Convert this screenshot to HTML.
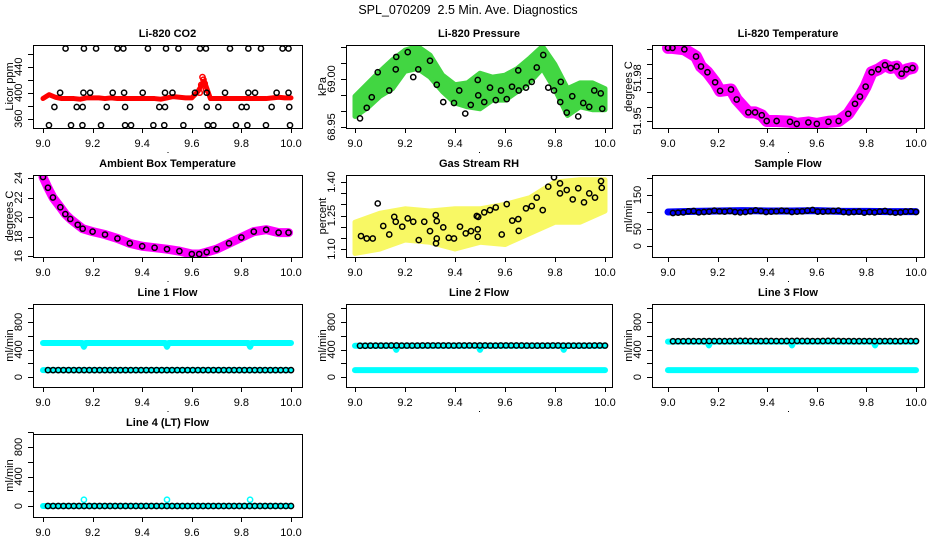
<!DOCTYPE html>
<html><head><meta charset="utf-8"><style>
html,body{margin:0;padding:0;background:#fff}
svg{display:block;font-family:"Liberation Sans",Arial,sans-serif}
</style></head><body>
<svg id="chart" width="936" height="540" viewBox="0 0 936 540" xmlns="http://www.w3.org/2000/svg">
<rect width="936" height="540" fill="#fff"/>
<text x="468" y="14" text-anchor="middle" font-size="12.5">SPL_070209&#160; 2.5 Min. Ave. Diagnostics</text>
</svg>
<script>
// ---------- data ----------
const gridT = [9.0,9.025,9.05,9.075,9.1,9.125,9.15,9.175,9.2,9.225,9.25,9.275,9.3,9.325,9.35,9.375,9.4,9.425,9.45,9.475,9.5,9.525,9.55,9.575,9.6,9.625,9.65,9.675,9.7,9.725,9.75,9.775,9.8,9.825,9.85,9.875,9.9,9.925,9.95,9.975,10.0];
const co2Red = [391,397,393,391,391,391,390,392,392,392,391,392,391,391,391,391,391,391,391,390,392,394,393,392,392,402,418,391,391,391,391,391,391,391,391,391,391,392,393,392,392];
const co2SpikeT = [9.632,9.638,9.643,9.647,9.652,9.657];
const co2SpikeV = [400,412,424,420,414,405];
const co2BlackT = [9.091,9.165,9.214,9.3,9.324,9.423,9.496,9.546,9.633,9.657,9.754,9.828,9.879,9.966,9.99,
 9.069,9.163,9.19,9.281,9.327,9.402,9.492,9.522,9.613,9.66,9.734,9.828,9.855,9.942,9.99,
 9.046,9.136,9.16,9.257,9.331,9.469,9.492,9.593,9.66,9.707,9.801,9.821,9.922,9.993,
 9.024,9.113,9.159,9.234,9.331,9.355,9.445,9.489,9.566,9.664,9.687,9.778,9.824,9.899,9.996];
const co2BlackV = [468,468,468,468,468,468,468,468,468,468,468,468,468,468,468,
 400,400,400,400,400,400,400,400,400,400,400,400,400,400,400,
 378,378,378,378,378,378,378,378,378,378,378,378,378,378,
 350,350,350,350,350,350,350,350,350,350,350,350,350,350,350];

const presT = [9.0,9.05,9.1,9.15,9.2,9.25,9.3,9.35,9.4,9.45,9.5,9.55,9.6,9.65,9.7,9.75,9.8,9.85,9.9,9.95,10.0];
const presLo = [68.961,68.970,68.982,68.990,69.008,69.011,69.002,68.987,68.975,68.971,68.969,68.978,68.978,68.987,68.997,69.011,68.989,68.962,68.971,68.968,68.968];
const presHi = [68.982,68.995,69.008,69.020,69.030,69.034,69.025,69.004,68.994,68.996,69.006,69.002,69.004,69.011,69.022,69.034,69.015,68.990,68.996,68.996,68.990];
const presBlackT = [9.02,9.047,9.067,9.091,9.137,9.165,9.163,9.211,9.253,9.233,9.3,9.327,9.353,9.396,9.417,9.441,9.463,9.491,9.493,9.517,9.54,9.563,9.584,9.607,9.628,9.653,9.655,9.684,9.707,9.727,9.753,9.773,9.796,9.821,9.823,9.847,9.869,9.893,9.913,9.937,9.957,9.983,9.989];
const presBlackV = [68.959,68.970,68.981,69.007,68.988,69.023,69.010,69.028,69.010,69.002,69.019,68.994,68.976,68.975,68.988,68.964,68.973,68.999,68.983,68.976,68.991,68.978,68.988,68.979,68.992,69.009,68.988,68.991,68.997,69.012,69.025,68.991,68.988,68.976,68.997,68.965,68.982,68.961,68.975,68.971,68.988,68.985,68.969];

const tempT = [9.0,9.018,9.066,9.113,9.133,9.159,9.19,9.21,9.254,9.277,9.324,9.351,9.378,9.398,9.438,9.492,9.519,9.566,9.6,9.647,9.688,9.727,9.754,9.774,9.797,9.821,9.848,9.875,9.898,9.922,9.942,9.962,9.986];
const tempV = [52.001,52.001,52.000,51.995,51.988,51.984,51.977,51.971,51.972,51.965,51.956,51.956,51.954,51.950,51.950,51.9495,51.948,51.949,51.948,51.9495,51.950,51.955,51.962,51.967,51.974,51.984,51.986,51.989,51.987,51.988,51.983,51.986,51.987];

const ambT = [9.0,9.02,9.04,9.07,9.09,9.11,9.14,9.16,9.2,9.25,9.3,9.35,9.4,9.45,9.5,9.55,9.6,9.63,9.66,9.7,9.75,9.8,9.85,9.9,9.95,9.99];
const ambV = [24.1,23.0,22.0,21.0,20.3,19.8,19.2,18.8,18.5,18.2,17.8,17.3,17.0,16.85,16.7,16.5,16.2,16.2,16.4,16.7,17.3,17.9,18.5,18.7,18.4,18.4];

const rhT = [9.0,9.1,9.2,9.3,9.4,9.5,9.6,9.7,9.8,9.9,10.0];
const rhLo = [1.08,1.10,1.14,1.13,1.10,1.13,1.12,1.17,1.22,1.22,1.27];
const rhHi = [1.22,1.26,1.28,1.27,1.28,1.28,1.30,1.33,1.40,1.41,1.41];
const rhBlackT = [9.024,9.047,9.071,9.091,9.113,9.137,9.157,9.163,9.189,9.211,9.233,9.255,9.277,9.3,9.323,9.327,9.327,9.324,9.353,9.375,9.396,9.42,9.443,9.464,9.487,9.493,9.491,9.491,9.517,9.54,9.563,9.587,9.607,9.629,9.653,9.655,9.684,9.707,9.727,9.751,9.773,9.796,9.82,9.82,9.847,9.871,9.893,9.916,9.937,9.96,9.984,9.987];
const rhBlackV = [1.158,1.147,1.147,1.304,1.203,1.165,1.244,1.222,1.200,1.237,1.222,1.140,1.222,1.180,1.252,1.147,1.225,1.125,1.197,1.150,1.147,1.200,1.170,1.180,1.248,1.244,1.188,1.155,1.264,1.274,1.286,1.165,1.301,1.227,1.234,1.181,1.282,1.292,1.330,1.274,1.379,1.421,1.394,1.349,1.364,1.322,1.372,1.309,1.349,1.330,1.404,1.374];

const blackT = Array.from({length:48},(_, i)=>9.02+i*0.98/47);
const sampBandT = [9.0,9.1,9.2,9.3,9.4,9.5,9.6,9.7,9.8,9.9,10.0];
const sampBandV = [100,102,103,104,103,103,104,102,102,101,101];
const sampBlack = [97,98,99,102,103,99,100,101,104,102,101,103,100,99,100,102,105,103,100,101,102,104,103,100,101,102,104,106,101,101,102,103,104,100,99,100,101,98,100,99,101,103,100,98,99,101,102,100];
const line1Black = [100,100,100,100,100,100,100,100,100,100,100,100,100,100,100,100,100,100,100,100,100,100,100,100,100,100,100,100,100,100,100,100,100,100,100,100,100,100,100,100,100,100,100,100,100,100,100,100];
const line2Black = [455,455,456,456,457,457,458,458,457,457,456,457,458,458,459,459,458,458,457,458,458,459,459,458,458,457,457,458,459,459,458,458,457,456,456,457,457,458,458,457,457,456,456,457,457,458,458,457];
const line3Black = [520,521,521,522,522,521,522,523,523,522,522,523,524,525,525,524,523,523,524,524,523,523,524,524,525,524,524,523,523,524,525,525,524,523,523,522,522,523,523,522,522,523,523,522,522,523,523,522];
const line4Black = [0,0,0,0,0,0,0,0,0,0,0,0,0,0,0,0,0,0,0,0,0,0,0,0,0,0,0,0,0,0,0,0,0,0,0,0,0,0,0,0,0,0,0,0,0,0,0,0];
const cyanT = [9.0,9.158,9.165,9.172,9.493,9.5,9.507,9.828,9.835,9.842,10.0];
const line1CyanHi = [495,495,440,495,495,440,495,495,440,495,495];
const line2CyanHi = [455,455,395,455,455,395,455,455,395,455,455];
const line3CyanHi = [515,515,460,515,515,460,515,515,460,515,515];
const cyanLowT = [9.0,10.0];
const cyanLow100 = [100,100];
const spikeT = [9.165,9.5,9.835];
const line4Spikes = [85,85,85];

// ---------- layout helpers ----------
const NS = 'http://www.w3.org/2000/svg';
const svg = document.getElementById('chart');
const COLS = [{bx0:33,bx1:302,xa:43,xb:291},{bx0:346,bx1:612,xa:355,xb:605},{bx0:652,bx1:924,xa:668,xb:916}];
const ROWS = [{by0:45,by1:128},{by0:175,by1:257},{by0:304,by1:387},{by0:434,by1:517}];
const xTicks = [9.0,9.2,9.4,9.6,9.8,10.0];
const xTickLabels = ['9.0','9.2','9.4','9.6','9.8','10.0'];

function mk(tag, attrs, parent){
  const e = document.createElementNS(NS, tag);
  for (const k in attrs) e.setAttribute(k, attrs[k]);
  (parent||svg).appendChild(e);
  return e;
}

function panel(name, col, row, v1, p1, v2, p2, yTicks, yLabels, title, ylab){
  const C = COLS[col], R = ROWS[row];
  const g = mk('g', {});
  
  
  const sx = t => C.xa + (t-9)*(C.xb-C.xa);
  const sy = v => p1 + (v-v1)*(p2-p1)/(v2-v1);
  const plot = mk('g', {}, g);
  
  
  const box = mk('rect', {x:C.bx0+.5, y:R.by0+.5, width:C.bx1-C.bx0, height:R.by1-R.by0, fill:'none', stroke:'#000', 'stroke-width':1}, g);
  
  
  const xa = mk('g', {}, g);
  
  
  mk('line', {x1:sx(9), x2:sx(10), y1:R.by1+.5, y2:R.by1+.5, stroke:'#000'}, xa);
  xTicks.forEach((t,i)=>{
    mk('line', {x1:Math.round(sx(t))+.5, x2:Math.round(sx(t))+.5, y1:R.by1, y2:R.by1+5, stroke:'#000'}, xa);
    const tx = mk('text', {x:sx(t), y:R.by1+19, 'text-anchor':'middle', 'font-size':11}, xa);
    tx.textContent = xTickLabels[i];
    
    
  });
  mk('rect', {x:(C.bx0+C.bx1)/2, y:R.by1+24, width:1, height:1, fill:'#000'}, xa);
  const ya = mk('g', {}, g);
  
  
  mk('line', {x1:C.bx0+.5, x2:C.bx0+.5, y1:sy(yTicks[0]), y2:sy(yTicks[yTicks.length-1]), stroke:'#000'}, ya);
  yTicks.forEach(v=>{
    const y = Math.round(sy(v))+.5;
    mk('line', {x1:C.bx0-5, x2:C.bx0, y1:y, y2:y, stroke:'#000'}, ya);
  });
  yLabels.forEach(l=>{
    const y = sy(l[0]);
    const tx = mk('text', {transform:`translate(${C.bx0-11},${y}) rotate(-90)`, 'text-anchor':'middle', 'font-size':11}, ya);
    tx.textContent = l[1];
    
    
  });
  const yt = mk('text', {transform:`translate(${C.bx0-20},${(R.by0+R.by1)/2}) rotate(-90)`, 'text-anchor':'middle', 'font-size':11}, g);
  yt.textContent = ylab;
  
  
  const tt = mk('text', {x:(C.bx0+C.bx1)/2, y:R.by0-8, 'text-anchor':'middle', 'font-size':11, 'font-weight':'bold'}, g);
  tt.textContent = title;
  
  
  const clip = 'clip-' + name;
  const cp = mk('clipPath', {id:clip}, g);
  mk('rect', {x:C.bx0+1, y:R.by0+1, width:C.bx1-C.bx0-1, height:R.by1-R.by0-1}, cp);
  plot.setAttribute('clip-path', `url(#${clip})`);
  g.appendChild(plot);
  return {sx, sy, plot};
}

function pts(P, ts, vs, color, name, r, sw){
  const g = mk('g', {}, P.plot);
  
  
  ts.forEach((t,i)=>{
    const c = mk('circle', {cx:P.sx(t), cy:P.sy(vs[i]), r:r||2.6, fill:'none', stroke:color, 'stroke-width':sw||1.5}, g);
    
    
  });
}
function band(P, ts, vs, color, w, name){
  const p = mk('polyline', {points: ts.map((t,i)=>P.sx(t)+','+P.sy(vs[i])).join(' '), fill:'none', stroke:color, 'stroke-width':w, 'stroke-linejoin':'round', 'stroke-linecap':'round'}, P.plot);
  
  
}
function area(P, ts, lo, hi, color, name, op){
  const up = ts.map((t,i)=>P.sx(t)+','+P.sy(hi[i]));
  const dn = ts.map((t,i)=>P.sx(t)+','+P.sy(lo[i])).reverse();
  const p = mk('polygon', {points: up.concat(dn).join(' '), fill:color, stroke:color, 'stroke-width':5, 'stroke-linejoin':'round', opacity:op||1}, P.plot);
  
  
}

// ---------- panels ----------
let P;
P = panel('co2', 0, 0, 400, 92.7, 440, 66.7, [360,380,400,420,440,460], [[360,'360'],[400,'400'],[440,'440']], 'Li-820 CO2', 'Licor ppm');
band(P, gridT, co2Red, '#ff0000', 5, 'co2-red-series');
pts(P, co2SpikeT, co2SpikeV, '#ff0000', 'co2-spike');
pts(P, co2BlackT, co2BlackV, '#000', 'co2-black-series');

P = panel('pressure', 1, 0, 69.00, 79, 68.95, 127, [68.95,68.9667,68.9833,69.00,69.0167,69.0333], [[68.95,'68.95'],[69.00,'69.00']], 'Li-820 Pressure', 'kPa');
area(P, presT, presLo, presHi, '#2ed22e', 'pressure-green-cloud', 0.9);
pts(P, presBlackT, presBlackV, '#000', 'pressure-black-series');

P = panel('li820-temp', 2, 0, 51.98, 78, 51.95, 121, [51.95,51.96,51.97,51.98,51.99,52.00], [[51.95,'51.95'],[51.98,'51.98']], 'Li-820 Temperature', 'degrees C');
band(P, tempT, tempV, '#ff00ff', 12, 'li820-temp-magenta-series');
pts(P, tempT, tempV, '#000', 'li820-temp-black-series');

P = panel('ambient', 0, 1, 24, 178, 16, 256, [16,18,20,22,24], [[16,'16'],[18,'18'],[20,'20'],[22,'22'],[24,'24']], 'Ambient Box Temperature', 'degrees C');
band(P, ambT, ambV, '#ff00ff', 9, 'ambient-magenta-series');
pts(P, ambT, ambV, '#000', 'ambient-black-series');

P = panel('rh', 1, 1, 1.40, 182, 1.10, 249, [1.10,1.15,1.20,1.25,1.30,1.35,1.40], [[1.10,'1.10'],[1.25,'1.25'],[1.40,'1.40']], 'Gas Stream RH', 'percent');
area(P, rhT, rhLo, rhHi, '#f7f74a', 'rh-yellow-cloud', 0.85);
pts(P, rhBlackT, rhBlackV, '#000', 'rh-black-series');

P = panel('sample-flow', 2, 1, 0, 246, 150, 195, [0,50,100,150,200], [[0,'0'],[50,'50'],[150,'150']], 'Sample Flow', 'ml/min');
band(P, sampBandT, sampBandV, '#0000ff', 7, 'sample-flow-blue-series');
pts(P, blackT, sampBlack, '#000', 'sample-flow-black-series');

const flowTicks = [0,200,400,600,800,1000];
const flowLabels = [[0,'0'],[400,'400'],[800,'800']];
P = panel('line1', 0, 2, 0, 377, 800, 322, flowTicks, flowLabels, 'Line 1 Flow', 'ml/min');
band(P, cyanT, line1CyanHi, '#00ffff', 6, 'line1-cyan-high');
band(P, cyanLowT, cyanLow100, '#00ffff', 6, 'line1-cyan-low');
pts(P, blackT, line1Black, '#000', 'line1-black-series');

P = panel('line2', 1, 2, 0, 377, 800, 322, flowTicks, flowLabels, 'Line 2 Flow', 'ml/min');
band(P, cyanT, line2CyanHi, '#00ffff', 6, 'line2-cyan-high');
band(P, cyanLowT, cyanLow100, '#00ffff', 6, 'line2-cyan-low');
pts(P, blackT, line2Black, '#000', 'line2-black-series');

P = panel('line3', 2, 2, 0, 377, 800, 322, flowTicks, flowLabels, 'Line 3 Flow', 'ml/min');
band(P, cyanT, line3CyanHi, '#00ffff', 6, 'line3-cyan-high');
band(P, cyanLowT, cyanLow100, '#00ffff', 6, 'line3-cyan-low');
pts(P, blackT, line3Black, '#000', 'line3-black-series');

P = panel('line4', 0, 3, 0, 506, 800, 447, flowTicks, flowLabels, 'Line 4 (LT) Flow', 'ml/min');
band(P, cyanLowT, [0,0], '#00ffff', 6, 'line4-cyan-base');
pts(P, spikeT, line4Spikes, '#00ffff', 'line4-cyan-spikes');
pts(P, blackT, line4Black, '#000', 'line4-black-series');
</script>
</body></html>
